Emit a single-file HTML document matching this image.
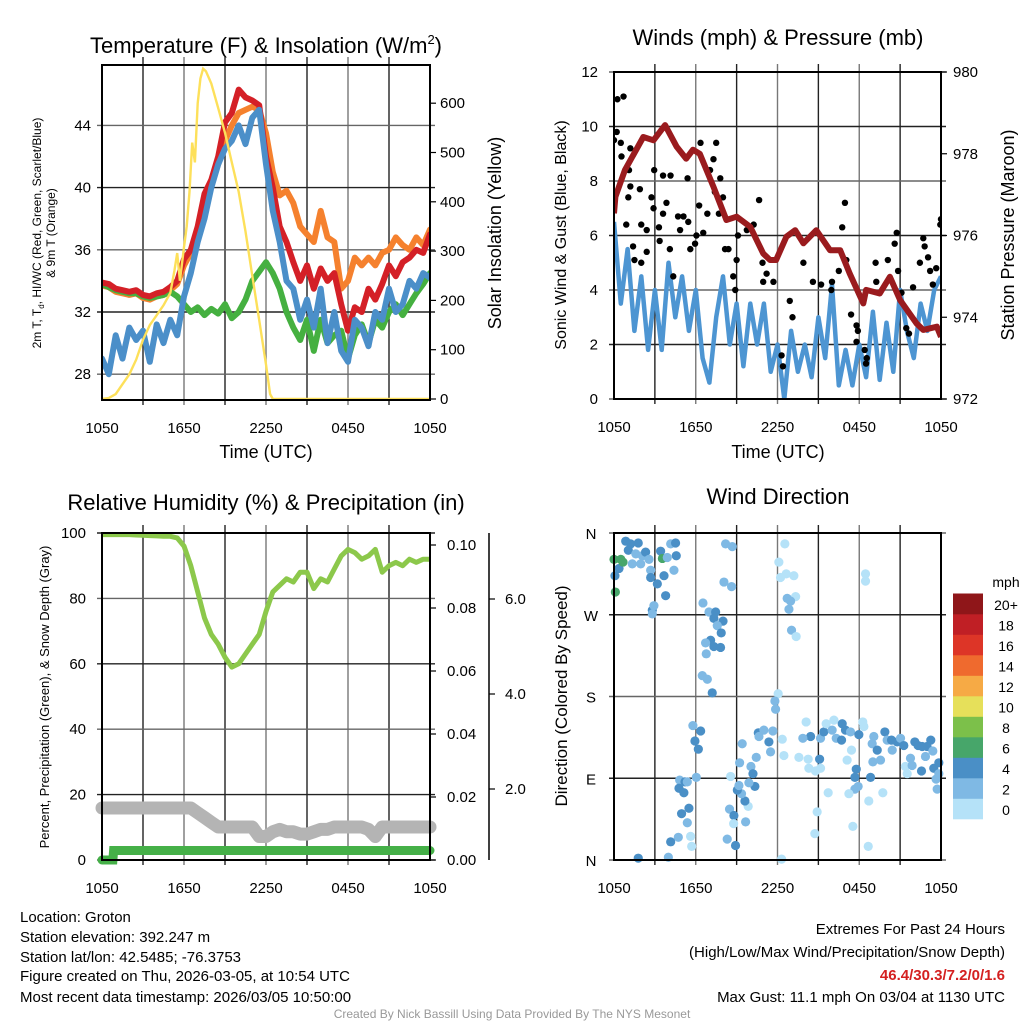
<!DOCTYPE html>
<html><head><meta charset="utf-8"><style>
body{margin:0;background:#fff}
svg{display:block;font-family:"Liberation Sans",sans-serif}
</style></head><body>
<svg id="s" width="1024" height="1024" viewBox="0 0 1024 1024" xmlns="http://www.w3.org/2000/svg">
<defs>
<clipPath id="c1"><rect x="102" y="65" width="328" height="335"/></clipPath>
<clipPath id="c2"><rect x="614" y="72" width="327" height="327"/></clipPath>
<clipPath id="c3"><rect x="95" y="533" width="345" height="335"/></clipPath>
<clipPath id="c4"><rect x="606" y="527" width="342" height="339"/></clipPath>
</defs>
<text x="266" y="53" font-size="22" text-anchor="middle">Temperature (F) &amp; Insolation (W/m<tspan font-size="13" dy="-9">2</tspan><tspan dy="9">)</tspan></text>
<text x="778" y="45" font-size="22" text-anchor="middle">Winds (mph) &amp; Pressure (mb)</text>
<text x="266" y="510" font-size="22" text-anchor="middle">Relative Humidity (%) &amp; Precipitation (in)</text>
<text x="778" y="504" font-size="22" text-anchor="middle">Wind Direction</text>
<text x="266" y="458" font-size="18" text-anchor="middle">Time (UTC)</text>
<text x="778" y="458" font-size="18" text-anchor="middle">Time (UTC)</text>
<text transform="translate(41,233) rotate(-90)" font-size="12" text-anchor="middle">2m T, T<tspan font-size="8" dy="3">d</tspan><tspan dy="-3">, HI/WC (Red, Green, Scarlet/Blue)</tspan></text>
<text transform="translate(55,233) rotate(-90)" font-size="12" text-anchor="middle">&amp; 9m T (Orange)</text>
<text transform="translate(501,233) rotate(-90)" font-size="18" text-anchor="middle">Solar Insolation (Yellow)</text>
<text transform="translate(566,235) rotate(-90)" font-size="16" text-anchor="middle">Sonic Wind &amp; Gust (Blue, Black)</text>
<text transform="translate(1014,235) rotate(-90)" font-size="18" text-anchor="middle">Station Pressure (Maroon)</text>
<text transform="translate(49,697) rotate(-90)" font-size="13" text-anchor="middle">Percent, Precipitation (Green), &amp; Snow Depth (Gray)</text>
<text transform="translate(567,696) rotate(-90)" font-size="17" text-anchor="middle">Direction (Colored By Speed)</text>
<g font-size="15">
<text x="20" y="922">Location: Groton</text>
<text x="20" y="942">Station elevation: 392.247 m</text>
<text x="20" y="962">Station lat/lon: 42.5485; -76.3753</text>
<text x="20" y="981">Figure created on Thu, 2026-03-05, at 10:54 UTC</text>
<text x="20" y="1002">Most recent data timestamp: 2026/03/05 10:50:00</text>
</g>
<g font-size="15" text-anchor="end">
<text x="1005" y="934">Extremes For Past 24 Hours</text>
<text x="1005" y="957">(High/Low/Max Wind/Precipitation/Snow Depth)</text>
<text x="1005" y="980" fill="#d42020" font-weight="bold">46.4/30.3/7.2/0/1.6</text>
<text x="1005" y="1002">Max Gust: 11.1 mph On 03/04 at 1130 UTC</text>
</g>
<text x="512" y="1018" font-size="12" fill="#999" text-anchor="middle">Created By Nick Bassill Using Data Provided By The NYS Mesonet</text>
</svg>
<script>
// ---------- data ----------
const timeLabels = ["1050","1650","2250","0450","1050"];
const tempTicks = [28,32,36,40,44];
const solarTicks = [0,100,200,300,400,500,600];
const tempRed = [33.9,33.8,33.5,33.4,33.3,33.4,33.1,33.0,33.2,33.3,33.6,34.0,35.4,36.0,37.5,39.6,40.5,42.0,44.2,44.8,46.3,45.8,45.6,45.3,42.0,40.0,37.5,36.5,35.2,34.0,35.0,33.5,34.8,34.0,34.5,32.5,30.8,32.3,32.0,33.5,32.8,33.8,35.0,34.3,35.2,35.5,36.0,35.8,37.0];
const temp9m = [33.7,33.6,33.3,33.2,33.1,33.2,32.9,32.8,33.0,33.1,33.4,33.8,35.0,35.8,37.0,39.0,40.2,41.5,43.0,44.0,44.8,45.0,45.2,45.0,43.5,41.0,39.5,39.8,39.0,37.5,37.0,36.5,38.5,36.8,36.5,33.5,34.0,35.5,35.0,35.5,35.0,35.8,36.0,36.8,36.3,36.0,36.8,36.3,37.3];
const tempHiWc = [33.8,33.6,33.4,33.3,33.2,33.2,33.0,32.9,33.0,33.1,33.3,33.0,32.5,32.0,32.3,31.8,32.2,31.9,32.5,31.6,32.0,32.8,34.0,34.6,35.2,34.5,33.5,32.0,31.0,30.2,31.5,29.5,31.5,30.0,30.5,30.8,29.0,30.5,31.2,30.0,31.5,31.0,32.0,32.5,31.8,32.5,33.2,33.8,34.5];
const tempDew = [29,28,30.5,29,31,30.2,30.8,28.8,31.2,30,31.5,30.5,33,34.5,36.5,38,40,41.5,42.5,43,44,42.8,44.5,45,41.5,38.5,36.5,34,33.5,31.5,32.8,31,33.5,30,32,29.5,28.8,31.5,31,29.8,32,31.5,33.5,32,32.5,34,33.5,34.5,34.2];
const solarHours = [0,0.5,1,1.5,2,2.5,3,3.5,4,4.5,5,5.3,5.5,5.7,6,6.2,6.4,6.6,6.8,7,7.2,7.4,7.6,8,8.5,9,9.5,10,10.5,11,11.5,12,12.3,12.5,13,24];
const solarValues = [0,2,10,30,50,80,120,150,170,190,215,260,296,240,308,350,420,520,480,600,650,670,665,640,590,540,480,420,340,250,160,70,10,0,0,0];

const windTicks = [0,2,4,6,8,10,12];
const pressTicks = [972,974,976,978,980];
const windSpeed = [6.5,3.5,5.5,2.5,4.5,1.8,4,1.8,5,3,4.5,2.5,4,1.5,0.6,3,4.5,2,3.5,1.2,3.5,2,3.5,1,2,0,2.5,1,2,0.8,3,1.5,4.2,0.5,1.8,0.5,2,0.8,3.2,0.7,2.8,1,4,2.5,1.5,3.5,2.5,4,4.5];
const pressHours = [0,0.1,0.8,2.15,2.9,3.75,4.6,5.3,5.8,6.3,7.3,8.25,9.0,10,10.95,11.45,11.9,12.65,13.3,13.9,14.85,15.85,16.6,17.3,18.3,18.5,19.5,20.25,21,22.2,22.7,23.7,24];
const pressValues = [976.54,976.95,977.6,978.41,978.33,978.7,978.17,977.88,978.1,978.0,977.19,976.38,976.46,976.21,975.56,975.4,975.4,975.97,976.13,975.81,976.13,975.64,975.64,975.07,974.34,974.67,974.58,974.99,974.42,973.85,973.69,973.77,973.52];
const gustHours = [0,0.2,0.25,0.7,0.5,0.55,1.2,1.1,1.2,1.05,0.9,1.4,1.9,2.0,2.4,1.5,2.0,2.4,2.75,2.9,2.95,3.3,3.35,3.6,3.85,3.6,4.15,4.1,4.35,4.7,5.1,4.85,5.4,5.45,5.6,5.95,6.05,6.35,6.25,6.55,6.85,7.05,7.3,7.5,7.4,7.8,8.0,7.7,8.15,8.4,8.75,9.0,9.1,8.9,9.75,10.25,10.65,10.9,11.2,10.95,11.7,12.9,13.1,12.3,12.4,13.9,14.6,15.2,16.0,15.95,16.5,16.75,16.95,17.05,17.4,17.8,17.9,18.4,18.5,18.55,19.2,19.25,20.1,20.75,20.6,20.85,21.1,21.45,21.95,22.45,22.7,22.8,23.05,23.2,23.4,23.65,24,23.95,21.65,17.8];
const gustMph = [9.5,9.8,11.0,11.1,9.4,8.9,9.2,8.4,7.8,7.4,6.4,5.6,7.7,6.4,6.2,5.1,5.0,5.4,7.4,7.0,8.4,6.3,5.8,8.2,7.2,6.8,8.2,5.5,4.5,6.7,6.7,6.2,8.1,6.5,5.5,5.7,6.0,9.4,7.1,6.1,6.8,8.4,8.8,9.4,7.6,8.1,7.4,6.8,5.5,5.5,4.5,5.1,6.0,4.0,6.2,6.4,7.3,5.0,4.6,4.3,4.3,3.6,3.0,1.6,1.2,5.0,4.3,4.2,4.3,4.0,4.7,6.3,7.2,5.1,3.1,2.7,2.5,1.8,1.3,1.5,5.0,4.3,5.1,6.1,5.7,4.7,3.9,2.6,4.1,5.0,5.9,5.6,5.2,4.7,4.2,4.8,6.6,6.4,2.4,2.1];

const rhTicks = [0,20,40,60,80,100];
const precipTicks = ["0.00","0.02","0.04","0.06","0.08","0.10"];
const snowTicks = ["2.0","4.0","6.0"];
const rhValues = [99.5,99.5,99.5,99.5,99.5,99.4,99.3,99.2,99.1,99,99,98.5,96,90,82,74,69,66,62,59,60,63,66,69,76,82,84,86,85,88,88,83,86,85,89,93,95,94,92,93,95,88,90,91,90,92,91,92,92];
const snowDepth = [1.6,1.6,1.6,1.6,1.6,1.6,1.6,1.6,1.6,1.6,1.6,1.6,1.6,1.6,1.5,1.4,1.3,1.2,1.2,1.2,1.2,1.2,1.2,1.0,1.0,1.1,1.15,1.1,1.1,1.05,1.05,1.1,1.15,1.15,1.2,1.2,1.2,1.2,1.2,1.15,1.0,1.2,1.2,1.2,1.2,1.2,1.2,1.2,1.2];
const precipHours = [0,0.8,0.85,24];
const precipValues = [0,0,0.003,0.003];

const dirLabels = ["N","E","S","W","N"];
const dirHours = [0.86,1.22,1.78,1.05,1.6,1.34,2.08,2.32,1.96,2.57,2.69,0.37,0.07,0,0.5,0.66,0.1,2.69,3.18,3.67,3.42,3.55,3.91,4.16,4.52,4.57,4.4,3.79,2.81,2.93,2.81,8.19,8.68,8.07,8.63,6.53,6.97,7.46,7.33,8.0,7.58,7.87,7.09,6.72,7.33,7.82,6.77,6.48,6.85,7.21,12.54,12.1,12.64,12.22,13.2,13.33,12.71,12.96,12.84,13.03,13.37,18.46,18.46,12.05,11.81,11.86,5.79,6.36,5.94,6.19,6.04,4.82,5.21,5.38,4.77,5.13,5.5,4.96,5.38,4.72,4.16,5.62,5.7,3.99,1.78,8.31,8.92,8.48,8.8,8.78,9.66,9.85,9.61,9.36,9.05,9.17,8.56,9.22,9.41,10.05,10.2,10.34,9.9,10.44,10.59,11.0,11.37,11.49,11.66,10.64,12.35,12.47,13.57,14.25,14.1,14.43,13.86,14.3,14.79,15.09,15.16,15.16,15.4,15.57,16.01,16.14,16.31,16.75,16.99,16.7,17.36,17.43,17.11,17.78,17.68,17.97,18.26,18.34,17.92,17.68,17.24,15.72,18.7,18.66,17.53,14.91,14.74,18.83,19.07,18.95,19.32,19.0,19.56,19.73,19.88,20.05,20.42,20.37,20.78,21.03,21.27,21.39,21.52,21.88,21.76,22.08,22.32,22.62,22.98,23.25,23.4,22.86,22.57,23.47,23.84,23.84,23.64,23.72,12.3];
const dirDegrees = [351,348,349,341,337,326,335,339,326,331,319,321,313,331,331,328,295,311,304,313,340,332,333,348,349,335,319,291,275,280,271,348,345,306,301,283,273,273,266,263,258,250,242,239,235,234,227,203,199,184,348,328,315,311,313,290,288,285,276,253,246,315,307,183,175,166,148,142,131,122,91,88,86,86,79,74,57,51,41,25,20,26,15,3,2,23,16,56,49,40,42,59,65,73,77,82,92,107,128,103,95,81,85,113,140,143,130,119,142,136,133,115,113,111,152,136,134,101,98,111,101,134,141,150,143,154,134,150,143,132,141,121,110,100,91,138,152,147,81,78,73,74,65,15,37,53,29,91,136,128,121,108,110,74,141,132,121,132,130,134,126,103,95,104,112,130,126,125,125,132,120,114,98,101,107,95,89,78,1];
const dirSpeeds = [5,5,5,5,3,3,3,5,3,3,3,5,5,7,7,7,7,5,5,5,5,7,3,3,5,5,3,5,5,3,3,3,3,3,3,3,3,5,5,5,3,5,5,3,5,5,3,3,3,5,1,1,1,1,1,1,3,3,3,3,1,1,1,1,3,3,3,5,5,5,3,3,5,3,5,5,5,5,3,3,5,1,1,3,5,3,5,3,5,1,3,1,5,3,5,3,1,3,3,3,5,5,3,3,5,3,5,3,3,3,1,1,1,1,1,5,3,1,1,5,1,3,5,1,3,1,3,5,5,5,3,1,1,5,5,5,1,1,3,3,1,1,1,1,1,1,1,5,3,3,5,3,3,1,5,3,3,5,5,3,5,1,1,3,3,5,5,5,5,5,3,3,5,5,5,3,3,3,1];
const speedBins = [0,2,4,6,8,10,12,14,16,18,20];
const speedColors = ["#b5e2f8","#7fb9e4","#4a8fc6","#47a66a","#7cc04a","#e6e05a","#f6aa45","#ef6a2e","#dd3527","#c01f25","#8f1619"];
const speedLabels = ["0","2","4","6","8","10","12","14","16","18","20+"];

// ---------- scales ----------
const P1 = {l:102,r:430,t:65,b:400};
const P2 = {l:614,r:941,t:72,b:399};
const P3 = {l:102,r:430,t:533,b:860};
const P4 = {l:614,r:941,t:533,b:860};
const xOf = (P,h) => P.l + h*(P.r-P.l)/24;
const yTemp = v => 312 - (v-32)*15.55;
const ySolar = v => 399 - v*0.493;
const yWind = v => 399 - v*27.25;
const yPress = v => 399 - (v-972)*40.875;
const yRH = v => 860 - v*3.27;
const yPrecip = v => 860 - v*3150;
const ySnow = v => 884 - v*47.5;
const yDir = v => 860 - v*0.9083;

const svg = document.getElementById('s');
const NS = 'http://www.w3.org/2000/svg';
function mk(tag, attrs, parent){
  const e = document.createElementNS(NS, tag);
  for (const k in attrs) e.setAttribute(k, attrs[k]);
  (parent||svg).appendChild(e);
  return e;
}
function txt(x,y,s,size,anchor,parent){
  const e = mk('text',{x:x,y:y,'font-size':size,'text-anchor':anchor},parent);
  e.textContent = s;
  return e;
}
function panelGrid(P, yTicksPx, name){
  const g = mk('g',{});
  
  
  for (let i=1;i<8;i++){
    const x = xOf(P,i*3);
    mk('line',{x1:x,x2:x,y1:P.t-8,y2:P.b+5,stroke:i%2?'#222':'#777','stroke-width':1.4},g);
  }
  yTicksPx.forEach((y,i)=>{
    mk('line',{x1:P.l-5,x2:P.r+5,y1:y,y2:y,stroke:i%2?'#222':'#666','stroke-width':1.4},g);
  });
  return g;
}
function frame(P,name){
  const f = mk('rect',{x:P.l,y:P.t,width:P.r-P.l,height:P.b-P.t,fill:'none',stroke:'#000','stroke-width':2});
  
  
}
function xLabels(P,name){
  const g = mk('g',{});
  
  
  timeLabels.forEach((s,i)=>{ txt(xOf(P,i*6), P.b+33, s, 15, 'middle', g); });
}
function pathFrom(xs, ys){
  return xs.map((x,i)=>(i?'L':'M')+x.toFixed(1)+','+ys[i].toFixed(1)).join('');
}
const halfHours = tempRed.map((_,i)=>i*0.5);

// ---------- panel 1 ----------
panelGrid(P1, tempTicks.map(yTemp), 'temperature');
const g1 = mk('g',{'clip-path':'url(#c1)'});


[[temp9m,'#f5812e','nine-meter-temp-line'],[tempHiWc,'#45b040','heat-index-wind-chill-line'],[tempRed,'#d42027','two-meter-temp-line'],[tempDew,'#4b8fc9','dewpoint-line']].forEach(s=>{
  const p = mk('path',{d:pathFrom(halfHours.map(h=>xOf(P1,h)), s[0].map(yTemp)),fill:'none',stroke:s[1],'stroke-width':6,'stroke-linejoin':'round','stroke-linecap':'round'},g1);
  
  
});
const sol = mk('path',{d:pathFrom(solarHours.map(h=>xOf(P1,h)), solarValues.map(ySolar)),fill:'none',stroke:'#fde05a','stroke-width':2.4},g1);


frame(P1,'temperature');
const t1 = mk('g',{});


tempTicks.forEach(v=>txt(91, yTemp(v)+5, String(v), 15, 'end', t1));
const t1r = mk('g',{});


solarTicks.forEach(v=>{ mk('line',{x1:430,x2:436,y1:ySolar(v),y2:ySolar(v),stroke:'#000','stroke-width':1.2},t1r); txt(440, ySolar(v)+5, String(v), 15, 'start', t1r); });
xLabels(P1,'temperature');

// ---------- panel 2 ----------
panelGrid(P2, windTicks.map(yWind), 'winds');
const g2 = mk('g',{'clip-path':'url(#c2)'});


const wl = mk('path',{d:pathFrom(halfHours.map(h=>xOf(P2,h)), windSpeed.map(yWind)),fill:'none',stroke:'#4d95d2','stroke-width':4.5,'stroke-linejoin':'round'},g2);


gustHours.forEach((h,i)=>{
  const c = mk('circle',{cx:xOf(P2,h),cy:yWind(gustMph[i]),r:3.2,fill:'#000'},g2);
  
  
});
const pl = mk('path',{d:pathFrom(pressHours.map(h=>xOf(P2,h)), pressValues.map(yPress)),fill:'none',stroke:'#9a1b1e','stroke-width':6,'stroke-linejoin':'round'},g2);


frame(P2,'winds');
const t2 = mk('g',{});


windTicks.forEach(v=>txt(598, yWind(v)+5, String(v), 15, 'end', t2));
const t2r = mk('g',{});


pressTicks.forEach(v=>{ mk('line',{x1:941,x2:947,y1:yPress(v),y2:yPress(v),stroke:'#000','stroke-width':1.2},t2r); txt(953, yPress(v)+5, String(v), 15, 'start', t2r); });
xLabels(P2,'winds');

// ---------- panel 3 ----------
panelGrid(P3, rhTicks.map(yRH), 'humidity');
const g3 = mk('g',{'clip-path':'url(#c3)'});


const sl = mk('path',{d:pathFrom(halfHours.map(h=>xOf(P3,h)), snowDepth.map(ySnow)),fill:'none',stroke:'#b4b4b4','stroke-width':13,'stroke-linejoin':'round','stroke-linecap':'round'},g3);


const prl = mk('path',{d:pathFrom(precipHours.map(h=>xOf(P3,h)), precipValues.map(yPrecip)),fill:'none',stroke:'#45b048','stroke-width':9,'stroke-linecap':'round'},g3);


const rl = mk('path',{d:pathFrom(halfHours.map(h=>xOf(P3,h)), rhValues.map(yRH)),fill:'none',stroke:'#8cc84b','stroke-width':5,'stroke-linejoin':'round'},g3);


frame(P3,'humidity');
const t3 = mk('g',{});


rhTicks.forEach(v=>txt(86, yRH(v)+5, String(v), 15, 'end', t3));
const t3r = mk('g',{});


precipTicks.forEach(s=>{ const y = yPrecip(parseFloat(s)); mk('line',{x1:430,x2:436,y1:y,y2:y,stroke:'#000','stroke-width':1.2},t3r); txt(447, y+5, s, 15, 'start', t3r); });
const t3s = mk('g',{});


mk('line',{x1:489,x2:489,y1:533,y2:860,stroke:'#000','stroke-width':1.5},t3s);
snowTicks.forEach(s=>{ const y = ySnow(parseFloat(s)); mk('line',{x1:489,x2:495,y1:y,y2:y,stroke:'#000','stroke-width':1.2},t3s); txt(505, y+5, s, 15, 'start', t3s); });
xLabels(P3,'humidity');

// ---------- panel 4 ----------
panelGrid(P4, [0,90,180,270,360].map(yDir), 'direction');
const g4 = mk('g',{'clip-path':'url(#c4)'});


function speedColor(v){ let k=0; for(let i=0;i<speedBins.length;i++){ if(v>=speedBins[i]) k=i; } return speedColors[k]; }
dirHours.forEach((h,i)=>{
  const c = mk('circle',{cx:xOf(P4,h),cy:yDir(dirDegrees[i]),r:4.6,fill:speedColor(dirSpeeds[i])},g4);
  
  
});
frame(P4,'direction');
const t4 = mk('g',{});


dirLabels.forEach((s,i)=>txt(591, yDir(i*90)+6, s, 15, 'middle', t4));
xLabels(P4,'direction');

const cb = mk('g',{});


txt(1006, 587, 'mph', 14, 'middle', cb);
const segH = 20.5, cbBottom = 819;
speedColors.forEach((col,i)=>{
  const y = cbBottom - (i+1)*segH;
  const r = mk('rect',{x:953,y:y,width:30,height:segH+0.3,fill:col},cb);
  
  
  txt(1006, y+segH/2+6, speedLabels[i], 14, 'middle', cb);
});
</script>
</body></html>
